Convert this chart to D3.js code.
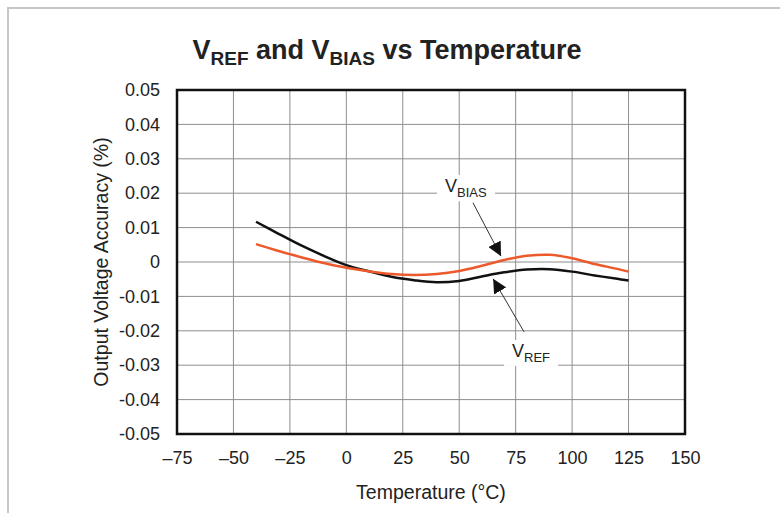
<!DOCTYPE html>
<html>
<head>
<meta charset="utf-8">
<script src="https://cdn.jsdelivr.net/npm/d3@7"></script>
<style>
  body { margin: 0; background: #fff; }
  svg text { font-family: 'Liberation Sans', Arial, sans-serif; fill: #222; }
</style>
</head>
<body>
<svg id="chart" width="780" height="513"></svg>
<script>
// temperatures (°C) the curves were read at
const temps = [-40, -30, -20, -10, 0, 10, 20, 30, 40, 50, 60, 70, 80, 90, 100, 110, 120, 125];
// output voltage accuracy (%)
const vref = [0.0117, 0.0082, 0.0048, 0.0018, -0.0009, -0.0027, -0.0043, -0.0053, -0.0059, -0.0055, -0.0042, -0.0030, -0.0022, -0.0021, -0.0028, -0.0039, -0.0049, -0.0054];
const vbias = [0.0052, 0.0032, 0.0014, -0.0003, -0.0017, -0.0027, -0.0035, -0.0038, -0.0035, -0.0026, -0.0011, 0.0006, 0.0018, 0.0021, 0.0011, -0.0006, -0.0020, -0.0028];

const xTicks = [-75, -50, -25, 0, 25, 50, 75, 100, 125, 150];
const yTicks = [0.05, 0.04, 0.03, 0.02, 0.01, 0, -0.01, -0.02, -0.03, -0.04, -0.05];

// callouts: label position and arrow from/to, in data units
const callouts = [
  { name: 'BIAS', label: [43.7, 0.0203], from: [56.1, 0.0172], to: [68.5, 0.0017] },
  { name: 'REF', label: [73.4, -0.0276], from: [78.7, -0.0203], to: [65.0, -0.0049] }
];

const margin = { top: 90, right: 95, bottom: 79, left: 177 };
const w = 780, h = 513;

const svg = d3.select('#chart');

// light page frame
svg.append('rect')
  .attr('x', 8).attr('y', 8)
  .attr('width', 800).attr('height', 540)
  .attr('fill', 'none')
  .attr('stroke', '#c3c7cb')
  .attr('stroke-width', 2);

const x = d3.scaleLinear().domain([-75, 150]).range([margin.left, w - margin.right]);
const y = d3.scaleLinear().domain([-0.05, 0.05]).range([h - margin.bottom, margin.top]);

// grid
svg.append('g').attr('class', 'grid-x')
  .selectAll('line')
  .data(xTicks.slice(1, -1))
  .enter()
  .append('line')
  .attr('x1', d => x(d)).attr('x2', d => x(d))
  .attr('y1', y(0.05)).attr('y2', y(-0.05))
  .attr('stroke', '#8e8e8e')
  .attr('stroke-width', 1);

svg.append('g').attr('class', 'grid-y')
  .selectAll('line')
  .data(yTicks.slice(1, -1))
  .enter()
  .append('line')
  .attr('x1', x(-75)).attr('x2', x(150))
  .attr('y1', d => y(d)).attr('y2', d => y(d))
  .attr('stroke', '#8e8e8e')
  .attr('stroke-width', 1);

// axes (labels only, no tick marks)
const xAxis = svg.append('g')
  .attr('transform', `translate(0, ${y(-0.05) + 14})`)
  .call(d3.axisBottom(x).tickValues(xTicks).tickSize(0)
    .tickFormat(d => d < 0 ? '\u2013' + Math.abs(d) : d));
xAxis.select('.domain').remove();
xAxis.selectAll('text').style('font-size', '18px').attr('fill', '#222');

const yAxis = svg.append('g')
  .attr('transform', `translate(${x(-75) - 14}, 0)`)
  .call(d3.axisLeft(y).tickValues(yTicks).tickSize(0)
    .tickFormat(d => d === 0 ? '0' : d.toFixed(2)));
yAxis.select('.domain').remove();
yAxis.selectAll('text').style('font-size', '18px').attr('fill', '#222');

// curves
const line = d3.line()
  .x(d => x(d[0]))
  .y(d => y(d[1]))
  .curve(d3.curveCatmullRom.alpha(0.5));

svg.append('path')
  .datum(temps.map((t, i) => [t, vref[i]]))
  .attr('d', line)
  .attr('fill', 'none')
  .attr('stroke', '#111')
  .attr('stroke-width', 2.5);

svg.append('path')
  .datum(temps.map((t, i) => [t, vbias[i]]))
  .attr('d', line)
  .attr('fill', 'none')
  .attr('stroke', '#ec5a2c')
  .attr('stroke-width', 2.5);

// plot border
svg.append('rect')
  .attr('x', x(-75)).attr('y', y(0.05))
  .attr('width', x(150) - x(-75))
  .attr('height', y(-0.05) - y(0.05))
  .attr('fill', 'none')
  .attr('stroke', '#111')
  .attr('stroke-width', 2.5);

// callouts
svg.append('defs').append('marker')
  .attr('id', 'head')
  .attr('viewBox', '0 0 10 10')
  .attr('refX', 10).attr('refY', 5)
  .attr('markerWidth', 14).attr('markerHeight', 14)
  .attr('markerUnits', 'userSpaceOnUse')
  .attr('orient', 'auto')
  .append('path')
  .attr('d', 'M0,0 L10,5 L0,10 Z')
  .attr('fill', '#111');

callouts.forEach(c => {
  const lbl = svg.append('text')
    .attr('x', x(c.label[0]))
    .attr('y', y(c.label[1]))
    .style('font-size', '18px');
  lbl.append('tspan').text('V');
  lbl.append('tspan').attr('dy', 5).style('font-size', '13px').text(c.name);
  const bb = lbl.node().getBBox();
  svg.insert('rect', function () { return lbl.node(); })
    .attr('x', bb.x - 8).attr('y', bb.y - 1)
    .attr('width', bb.width + 16).attr('height', bb.height + 2)
    .attr('fill', '#fff');

  svg.append('line')
    .attr('x1', x(c.from[0])).attr('y1', y(c.from[1]))
    .attr('x2', x(c.to[0])).attr('y2', y(c.to[1]))
    .attr('stroke', '#333')
    .attr('stroke-width', 1)
    .attr('marker-end', 'url(#head)');
});

// title
const title = svg.append('text')
  .attr('x', 387).attr('y', 59)
  .attr('text-anchor', 'middle')
  .style('font-size', '27px')
  .style('font-weight', 'bold')
  .attr('fill', '#111');
title.append('tspan').text('V');
title.append('tspan').attr('dy', 6).style('font-size', '19px').text('REF');
title.append('tspan').attr('dy', -6).text(' and V');
title.append('tspan').attr('dy', 6).style('font-size', '19px').text('BIAS');
title.append('tspan').attr('dy', -6).text(' vs Temperature');

// axis titles
svg.append('text')
  .attr('x', (x(-75) + x(150)) / 2)
  .attr('y', 499)
  .attr('text-anchor', 'middle')
  .style('font-size', '19.5px')
  .text('Temperature (°C)');

svg.append('text')
  .attr('transform', `translate(108, ${(y(0.05) + y(-0.05)) / 2}) rotate(-90)`)
  .attr('text-anchor', 'middle')
  .style('font-size', '19.5px')
  .text('Output Voltage Accuracy (%)');
</script>
</body>
</html>
